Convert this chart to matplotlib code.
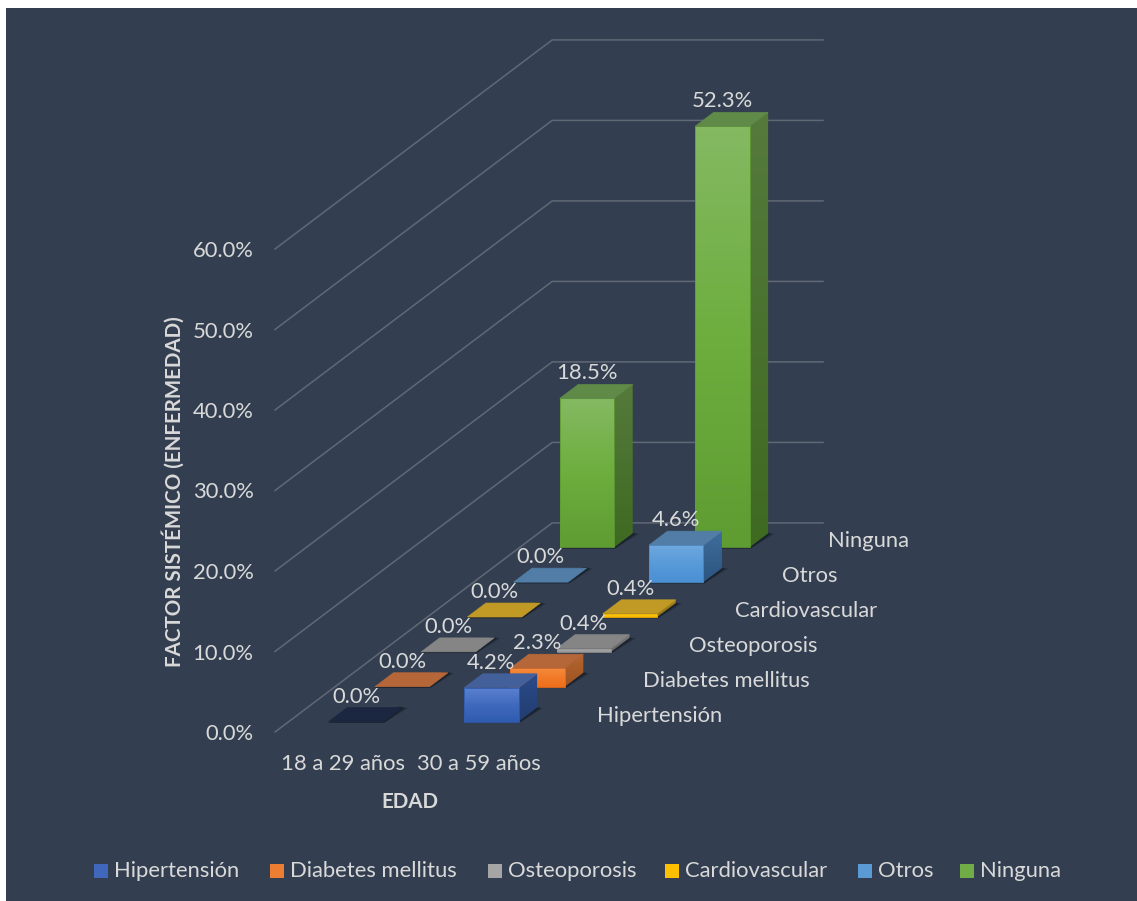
import numpy as np
import matplotlib
matplotlib.use("Agg")
import matplotlib.pyplot as plt
from matplotlib.patches import Polygon, Rectangle
from matplotlib.colors import LinearSegmentedColormap

plt.rcParams['font.family'] = ['Lato', 'DejaVu Sans']

# -- data
edades = ['18 a 29 años', '30 a 59 años']
factores = ['Hipertensión', 'Diabetes mellitus', 'Osteoporosis', 'Cardiovascular', 'Otros', 'Ninguna']
valores_18_29 = [0.0, 0.0, 0.0, 0.0, 0.0, 18.5]
valores_30_59 = [4.2, 2.3, 0.4, 0.4, 4.6, 52.3]
ticks_y = [0, 10, 20, 30, 40, 50, 60]

# -- colours per series: light front, mid front, dark front, top, side light, side dark
colores = [
    ('#5a80d0', '#4069bd', '#2f5cb0', '#44609a', '#2b4a88', '#223d70'),
    ('#f58a3c', '#f27a28', '#ee6f1c', '#b5673a', '#b5652f', '#9c5322'),
    ('#b4b4b4', '#a5a5a5', '#979797', '#858585', '#777777', '#666666'),
    ('#ffd21f', '#fcc40c', '#f5b800', '#c19a26', '#a8861c', '#8f7014'),
    ('#6fa9e0', '#599bd9', '#4a90d4', '#527da6', '#3f6d9c', '#2c5580'),
    ('#84b962', '#6dae3e', '#5f9c32', '#5f8a47', '#557a3c', '#3f6a22'),
]
swatch_colores = ['#3f68bd', '#ed7d31', '#a5a5a5', '#ffc000', '#5b9bd5', '#70ad47']
color_cero_hiper = '#1b2740'

FONDO = '#333f50'
TEXTO = '#d9d9d9'
REJILLA = '#616875'
TAM = 15.8
TAM_EJE = 14.75

# -- oblique projection of the floor, everything in figure pixels
X0, Y0 = 275.0, 732.0
PASO_COL = 135.4
PASO_FONDO_X = 46.2
PASO_FONDO_Y = 34.85
PX_POR_PCT = 8.05
HUECO_COL = 0.295
ANCHO_COL = 0.402
HUECO_FONDO = 0.30
ANCHO_FONDO = 0.40


def proyecta(col, fondo, valor):
    return (X0 + col * PASO_COL + fondo * PASO_FONDO_X,
            Y0 - fondo * PASO_FONDO_Y - valor * PX_POR_PCT)


fig = plt.figure(figsize=(11.37, 9.01), dpi=100, facecolor='white')
ax = fig.add_axes([0, 0, 1, 1])
ax.set_xlim(0, 1137)
ax.set_ylim(901, 0)
ax.axis('off')

ax.add_patch(Rectangle((6, 8), 1131, 893, facecolor=FONDO, edgecolor='none', zorder=0))

# -- walls
n_col = len(edades)
n_fondo = len(factores)
for t in ticks_y:
    esquina_a = proyecta(0, 0, t)
    esquina_b = proyecta(0, n_fondo, t)
    esquina_c = proyecta(n_col, n_fondo, t)
    ax.plot([esquina_a[0], esquina_b[0], esquina_c[0]], [esquina_a[1], esquina_b[1], esquina_c[1]],
            color=REJILLA, lw=1.1, zorder=1, solid_joinstyle='miter')
    ax.text(esquina_a[0] - 21.5, esquina_a[1] + 2, '%.1f%%' % t, color=TEXTO, fontsize=TAM,
            ha='right', va='center', zorder=20)


def cara_degradada(esquinas, stops, z):
    # vertical gradient clipped to a polygon
    xs = [p[0] for p in esquinas]
    ys = [p[1] for p in esquinas]
    cmap = LinearSegmentedColormap.from_list('cara', stops)
    img = ax.imshow(np.linspace(0, 1, 64).reshape(-1, 1), cmap=cmap, aspect='auto',
                    extent=(min(xs), max(xs), max(ys), min(ys)), zorder=z, interpolation='bilinear')
    poly = Polygon(esquinas, closed=True, transform=ax.transData, facecolor='none', edgecolor='none')
    ax.add_patch(poly)
    img.set_clip_path(poly)


def barra(col, fondo, valor, cols, z, color_tapa=None):
    c0 = col + HUECO_COL
    c1 = c0 + ANCHO_COL
    f0 = fondo + HUECO_FONDO
    f1 = f0 + ANCHO_FONDO
    claro, medio, oscuro, tapa, lado_claro, lado_oscuro = cols
    if color_tapa is not None:
        tapa = color_tapa

    # soft floor shadow on the right and along the front
    a = proyecta(c0, f0, 0)
    b = proyecta(c1, f0, 0)
    d = proyecta(c1, f1, 0)
    for extra, alfa in ((6, 0.16), (4, 0.28), (2, 0.45)):
        sombra = [(a[0] - 1.5, a[1] + 1.2), (b[0] + 1, b[1] + 1.2),
                  (d[0] + extra + 1, d[1] + 0.5), (d[0] - 2, d[1] - 1)]
        ax.add_patch(Polygon(sombra, closed=True, facecolor='#10151f', edgecolor='none', alpha=alfa, zorder=z))

    tapa_pts = [proyecta(c0, f0, valor), proyecta(c1, f0, valor), proyecta(c1, f1, valor), proyecta(c0, f1, valor)]
    if valor > 0:
        lado = [proyecta(c1, f0, 0), proyecta(c1, f1, 0), proyecta(c1, f1, valor), proyecta(c1, f0, valor)]
        cara_degradada(lado, [lado_claro, lado_oscuro], z + 0.1)
        frente = [proyecta(c0, f0, 0), proyecta(c1, f0, 0), proyecta(c1, f0, valor), proyecta(c0, f0, valor)]
        cara_degradada(frente, [claro, medio, oscuro], z + 0.1)
        # thin slabs keep a visible front edge
        ax.add_patch(Polygon(frente, closed=True, facecolor='none', edgecolor=oscuro, lw=0.6, zorder=z + 0.2))
    ax.add_patch(Polygon(tapa_pts, closed=True, facecolor=tapa, edgecolor=tapa, lw=0.5, zorder=z + 0.2))

    # value label above the front face
    x_txt = (proyecta(c0, f0, valor)[0] + proyecta(c1, f0, valor)[0]) / 2
    y_txt = proyecta(c0, f0, valor)[1] - 25
    ax.text(x_txt, y_txt, '%.1f%%' % valor, color=TEXTO, fontsize=TAM, ha='center', va='center', zorder=30)


# -- bars, from the back row to the front one
series_col = [valores_18_29, valores_30_59]
for i in range(n_fondo - 1, -1, -1):
    z = 5 + (n_fondo - i)
    for j in range(n_col):
        v = series_col[j][i]
        tapa = color_cero_hiper if (i == 0 and v == 0) else None
        barra(j, i, v, colores[i], z, tapa)

# -- category labels
for j, nombre in enumerate(edades):
    x, y = proyecta(j + 0.5, 0, 0)
    ax.text(x + 0.5, y + 32, nombre, color=TEXTO, fontsize=TAM, ha='center', va='center')

for i, nombre in enumerate(factores):
    x, y = proyecta(n_col, i + 0.5, 0)
    ax.text(x + 28, y + 1, nombre, color=TEXTO, fontsize=TAM, ha='left', va='center')

ax.text(410, 801.5, 'EDAD', color=TEXTO, fontsize=TAM_EJE, fontweight='bold', ha='center', va='center')
ax.text(173, 491.5, 'FACTOR SISTÉMICO (ENFERMEDAD)', color=TEXTO, fontsize=TAM_EJE, fontweight='bold',
        rotation=90, ha='center', va='center')

# -- legend
x_cuadro = [94, 270, 488, 665, 858, 960]
for x, nombre, c in zip(x_cuadro, factores, swatch_colores):
    ax.add_patch(Rectangle((x, 863.5), 14, 14, facecolor=c, edgecolor='none', zorder=3))
    ax.text(x + 20, 871, nombre, color=TEXTO, fontsize=TAM, ha='left', va='center')

fig.savefig('out.png', dpi=100, facecolor='white')
